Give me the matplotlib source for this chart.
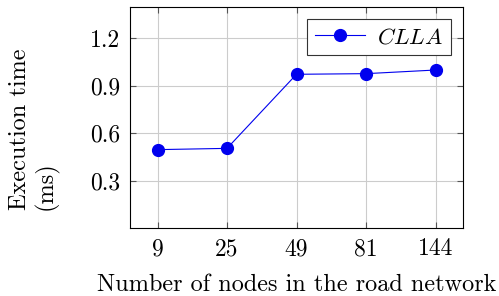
import matplotlib
matplotlib.use("Agg")
import matplotlib.pyplot as plt

nodes = ["9", "25", "49", "81", "144"]
clla_time = [0.497, 0.505, 0.973, 0.977, 1.0]
yticks = [0.3, 0.6, 0.9, 1.2]

plt.rcParams["font.family"] = "cmr10"
plt.rcParams["mathtext.fontset"] = "cm"
plt.rcParams["axes.formatter.use_mathtext"] = True

fig = plt.figure(figsize=(4.99, 2.96), dpi=100)
ax = fig.add_axes([129.7 / 499, 1 - 228.3 / 296, (463.3 - 129.7) / 499, (228.3 - 6.7) / 296])

x = list(range(len(nodes)))
ax.plot(x, clla_time, color="#0000ee", lw=0.8, marker="o", markersize=8.5,
        label="$CLLA$", zorder=3)

ax.set_xlim(-0.4, len(nodes) - 0.6)
ax.set_ylim(0, 1.4)
ax.set_xticks(x)
ax.set_xticklabels(nodes)
ax.set_yticks(yticks)
ax.set_yticklabels([f"{v:.1f}" for v in yticks])
ax.grid(True, color="#cccccc", lw=0.8)
ax.set_axisbelow(True)
ax.tick_params(direction="in", length=4, width=0.8, color="#555555",
               top=True, right=True, labelsize=17, pad=7)
for s in ax.spines.values():
    s.set_linewidth(0.8)

ax.set_xlabel("Number of nodes in the road network", fontsize=17.5, labelpad=10)
# two-line y label, lines aligned at their start (bottom once rotated)
fig.text(34 / 499, 1 - 129.5 / 296, "Execution time\n(ms)", fontsize=17.5,
         rotation=90, ha="center", va="center", multialignment="left",
         linespacing=1.12)

leg = ax.legend(loc="upper right", fontsize=16.5, fancybox=False, edgecolor="#333333",
                framealpha=1, handlelength=2.2, handletextpad=0.5, borderpad=0.35,
                borderaxespad=0.55)
leg.get_frame().set_linewidth(0.8)

fig.savefig("out.png", dpi=100)
